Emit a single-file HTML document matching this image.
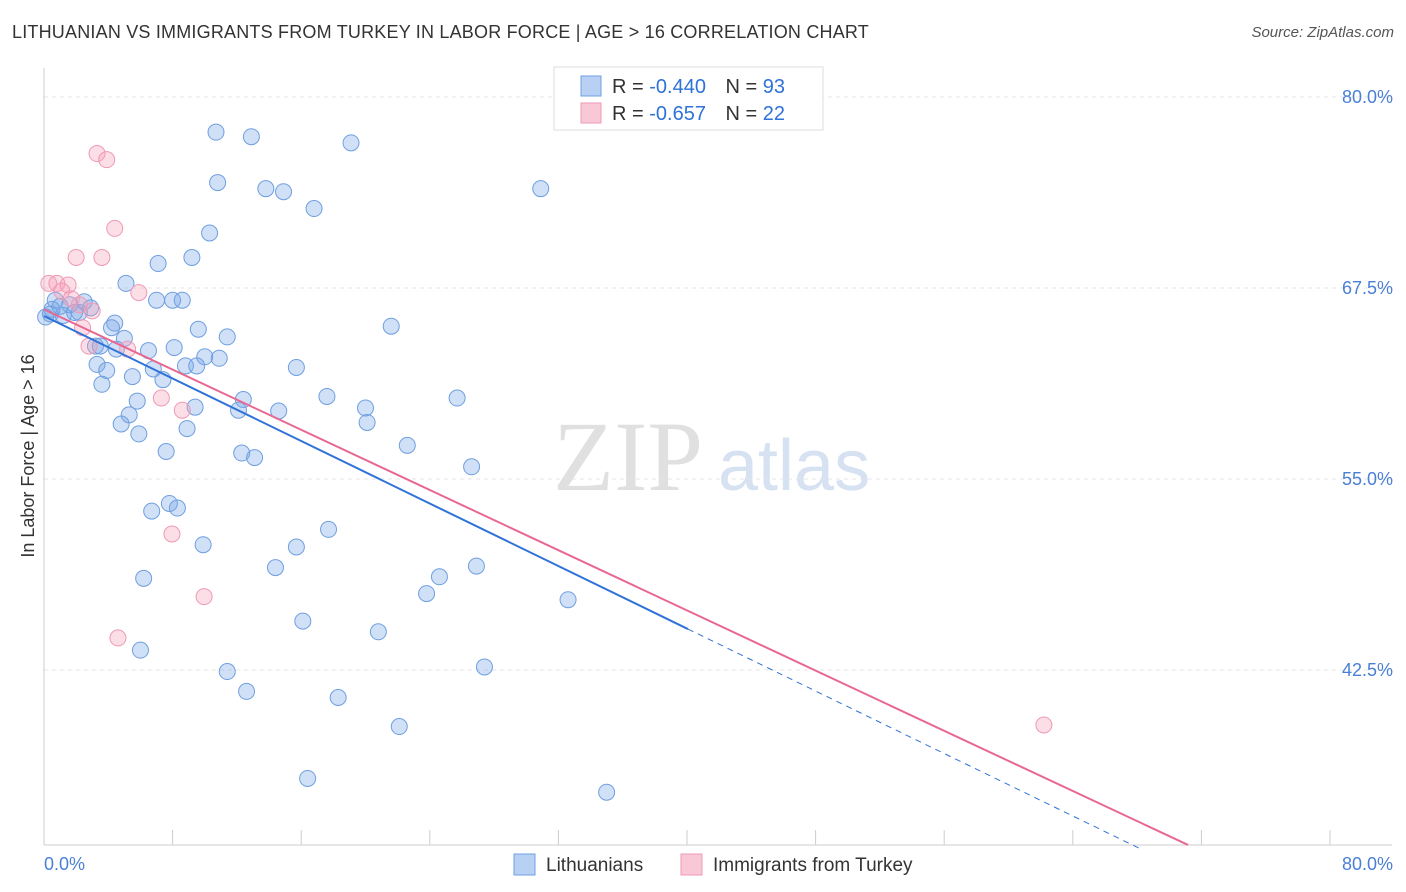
<!DOCTYPE html>
<html><head><meta charset="utf-8"><style>
body{margin:0;background:#fff;font-family:"Liberation Sans",sans-serif;}
#wrap{position:relative;width:1406px;height:892px;overflow:hidden;}
.title{position:absolute;left:12px;top:22px;font-size:18px;color:#333;letter-spacing:0.2px}
.src{position:absolute;right:12px;top:24px;font-size:15px;color:#555;font-style:italic}
</style></head><body>
<div id="wrap">
<div class="title">LITHUANIAN VS IMMIGRANTS FROM TURKEY IN LABOR FORCE | AGE &gt; 16 CORRELATION CHART</div>
<div class="src">Source: ZipAtlas.com</div>
<svg id="svg" width="1406" height="892" style="position:absolute;left:0;top:0"></svg>
</div>
<script>
const blueX=[10.7,12.9,19.1,10.8,13.8,14.9,30.9,16.8,10.3,9.2,7.1,5.1,7.0,8.0,8.6,2.5,1.6,0.7,0.5,1.2,2.2,4.4,4.2,9.6,11.4,21.6,5.0,3.2,3.5,4.5,6.5,8.1,10.0,10.9,3.3,3.9,6.8,8.8,9.5,15.7,5.5,7.4,3.6,5.8,17.6,25.7,12.4,9.4,12.1,14.6,20.0,5.3,20.1,4.8,8.9,5.9,22.6,7.6,12.3,13.1,26.6,7.8,8.3,6.7,17.7,9.9,15.7,14.4,26.9,24.6,6.2,23.8,32.6,16.1,20.8,6.0,27.4,11.4,12.6,18.3,22.1,16.4,35.0,0.4,1.0,1.9,2.9,0.1];
const blueY=[77.7,77.4,77.0,74.4,74.0,73.8,74.0,72.7,71.1,69.5,69.1,67.8,66.7,66.7,66.7,66.6,66.4,66.7,66.1,65.7,65.9,65.2,64.9,64.8,64.3,65.0,64.2,63.7,63.7,63.5,63.4,63.6,63.0,62.9,62.5,62.1,62.2,62.4,62.4,62.3,61.7,61.5,61.2,60.1,60.4,60.3,60.2,59.7,59.5,59.45,59.65,59.2,58.7,58.6,58.3,57.95,57.2,56.8,56.7,56.4,55.8,53.4,53.1,52.9,51.7,50.7,50.55,49.2,49.3,48.6,48.5,47.5,47.1,45.7,45.0,43.8,42.7,42.4,41.1,40.7,38.8,35.4,34.5,65.8,66.3,65.9,66.2,65.6];
const pinkX=[3.3,3.9,4.4,3.6,2.0,0.3,0.8,1.5,1.1,5.9,1.7,2.2,3.0,2.4,2.8,5.2,7.3,8.6,7.96,9.96,4.6,62.2];
const pinkY=[76.3,75.9,71.4,69.5,69.5,67.8,67.8,67.7,67.3,67.2,66.8,66.4,66.0,64.9,63.7,63.5,60.3,59.5,51.4,47.3,44.6,38.9];
const blueTrend=[[0,65.67],[40.06,45.18],[68.2,30.8]];
const pinkTrend=[[0,66.1],[71.17,31.05]];
const yTicks=[80,67.5,55,42.5];
const X=v=>44+v*16.075, Y=v=>97+(80-v)*15.28;
const svg=document.getElementById('svg');const NS='http://www.w3.org/2000/svg';
function mk(t,a,p){const e=document.createElementNS(NS,t);for(const k in a)e.setAttribute(k,a[k]);(p||svg).appendChild(e);return e;}
let w=mk('text',{x:553,y:490,'font-size':100,'font-family':'Liberation Serif,serif',fill:'#e0e0e0'});w.textContent='ZIP';


let w2=mk('text',{x:718,y:490,'font-size':72,'font-family':'Liberation Sans,sans-serif',fill:'#d6e2f2'});w2.textContent='atlas';


yTicks.forEach(t=>{
 let g=mk('line',{x1:44,x2:1392,y1:Y(t),y2:Y(t),stroke:'#e4e4e4','stroke-dasharray':'4,4'});
 
 
 let l=mk('text',{x:1393,y:Y(t)+6,'text-anchor':'end','font-size':18,fill:'#4a7fd6'});l.textContent=t.toFixed(1)+'%';
 
 
});
for(let i=0;i<=10;i++){let t=mk('line',{x1:X(i*8),x2:X(i*8),y1:830,y2:845,stroke:'#ccc'});
 
 }
let ax=mk('line',{x1:44,x2:44,y1:68,y2:845,stroke:'#ccc'});


let bx=mk('line',{x1:44,x2:1392,y1:845,y2:845,stroke:'#ccc'});


let x0=mk('text',{x:44,y:870,'font-size':18,fill:'#4a7fd6'});x0.textContent='0.0%';


let x1=mk('text',{x:1393,y:870,'text-anchor':'end','font-size':18,fill:'#4a7fd6'});x1.textContent='80.0%';


let yt=mk('text',{x:34,y:456,'text-anchor':'middle','font-size':18,fill:'#333',transform:'rotate(-90 34 456)'});yt.textContent='In Labor Force | Age > 16';


blueX.forEach((v,i)=>{let c=mk('circle',{cx:X(v),cy:Y(blueY[i]),r:8,fill:'rgba(120,165,230,0.35)',stroke:'#6f9fe0','stroke-width':1});
 
 });
pinkX.forEach((v,i)=>{let c=mk('circle',{cx:X(v),cy:Y(pinkY[i]),r:8,fill:'rgba(245,160,185,0.35)',stroke:'#ee9ab5','stroke-width':1});
 
 });
let b1=mk('line',{x1:X(blueTrend[0][0]),y1:Y(blueTrend[0][1]),x2:X(blueTrend[1][0]),y2:Y(blueTrend[1][1]),stroke:'#2f72d8','stroke-width':2});


let b2=mk('line',{x1:X(blueTrend[1][0]),y1:Y(blueTrend[1][1]),x2:X(blueTrend[2][0]),y2:Y(blueTrend[2][1]),stroke:'#2f72d8','stroke-width':1,'stroke-dasharray':'6,5'});


let p1=mk('line',{x1:X(pinkTrend[0][0]),y1:Y(pinkTrend[0][1]),x2:X(pinkTrend[1][0]),y2:Y(pinkTrend[1][1]),stroke:'#e86892','stroke-width':2});


let lg=mk('rect',{x:554,y:67,width:269,height:63,fill:'#fff',stroke:'#ddd'});


[[86,'#b8d0f4','#6f9fe0','-0.440','93'],[113,'#f9c8d6','#ee9ab5','-0.657','22']].forEach(r=>{
 let s=mk('rect',{x:581,y:r[0]-10,width:20,height:20,fill:r[1],stroke:r[2]});
 
 
 let t=mk('text',{x:612,y:r[0]+7,'font-size':20,fill:'#333'});
 t.innerHTML='R = <tspan fill="#2f72d8">'+r[3]+'</tspan>   <tspan dx="14">N = </tspan><tspan fill="#2f72d8">'+r[4]+'</tspan>';
 t.setAttribute('xml:space','preserve');
 
 
});
[[514,'#b8d0f4','#6f9fe0','Lithuanians'],[681,'#f9c8d6','#ee9ab5','Immigrants from Turkey']].forEach(r=>{
 let s=mk('rect',{x:r[0],y:854,width:21,height:21,fill:r[1],stroke:r[2]});
 
 
 let t=mk('text',{x:r[0]+32,y:871,'font-size':19,fill:'#333'});t.textContent=r[3];
 
 
});
</script>
</body></html>
